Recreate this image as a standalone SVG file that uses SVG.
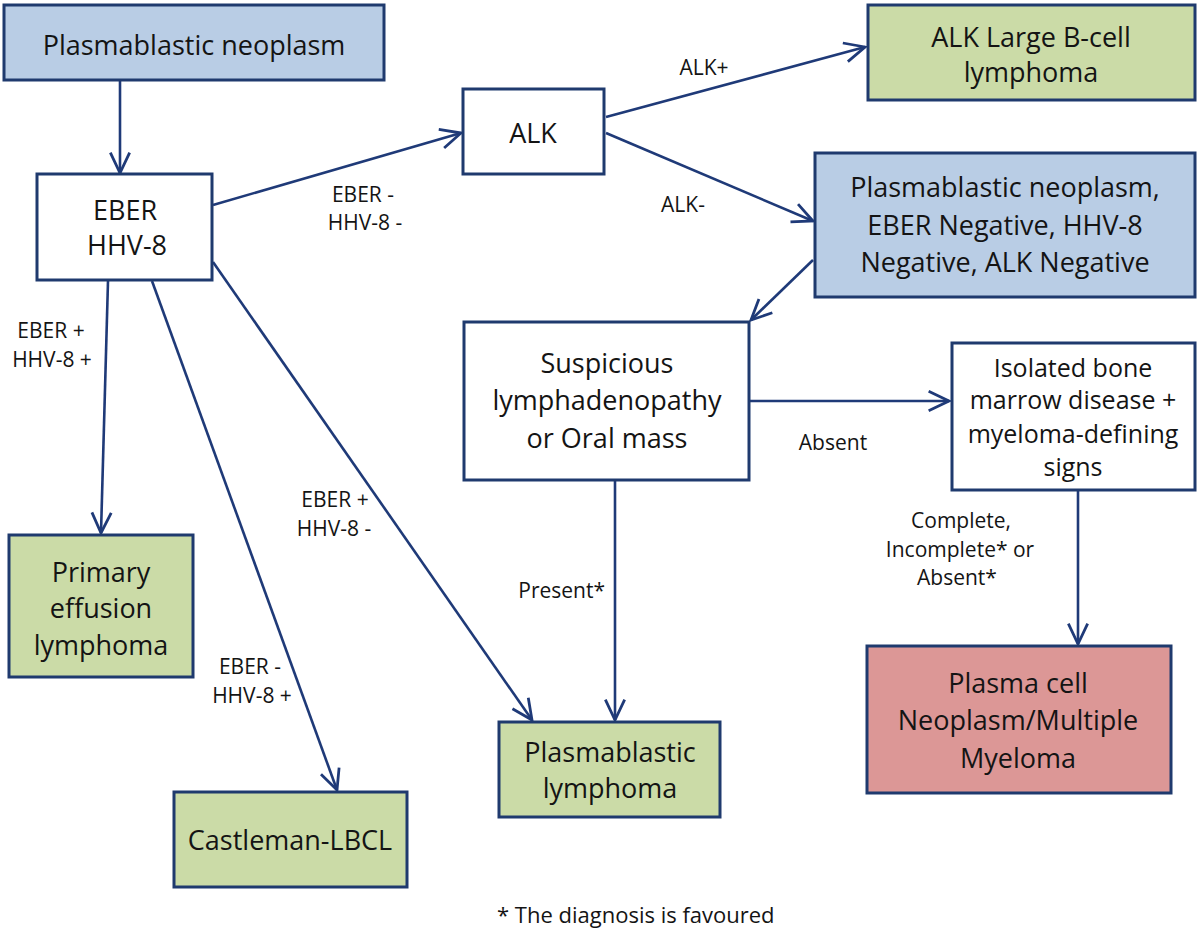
<svg xmlns="http://www.w3.org/2000/svg" width="1200" height="931" viewBox="0 0 1200 931">
<style>
.box{stroke:#1f3a6e;stroke-width:3;}
.blue{fill:#b9cde5;}
.green{fill:#cbdba7;}
.red{fill:#dc9796;}
.white{fill:#ffffff;}
text{font-family:"Open Sans","Liberation Sans",sans-serif;fill:#141414;text-anchor:middle;}
.t{font-size:27px;}
.s{font-size:25px;}
.l{font-size:21px;}
.f{font-size:22px;text-anchor:start;}
.conn line{stroke:#1f3a78;stroke-width:2.6;marker-end:url(#arr);}
</style>
<defs>
<marker id="arr" markerUnits="userSpaceOnUse" markerWidth="30" markerHeight="30" viewBox="-24 -12 28 24" refX="0" refY="0" orient="auto">
<path d="M-19,-9 L0,0 L-19,9" fill="none" stroke="#1f3a78" stroke-width="2.6"/>
</marker>
</defs>
<rect width="1200" height="931" fill="#ffffff"/>
<g id="connectors" class="conn">
<line x1="120" y1="80" x2="120" y2="173"/>
<line x1="213" y1="205" x2="461" y2="133"/>
<line x1="606" y1="117" x2="865" y2="47"/>
<line x1="606" y1="133" x2="813" y2="221"/>
<line x1="813" y1="260" x2="751" y2="320"/>
<line x1="749" y1="401" x2="949" y2="401"/>
<line x1="615" y1="481" x2="615" y2="720"/>
<line x1="1078" y1="490" x2="1078" y2="644"/>
<line x1="108" y1="281" x2="101" y2="533"/>
<line x1="152" y1="281" x2="337" y2="790"/>
<line x1="213" y1="262" x2="532" y2="720"/>
</g>
<g id="labels">
<text class="l" x="363" y="202">EBER -</text>
<text class="l" x="365" y="230">HHV-8 -</text>
<text class="l" x="704" y="75">ALK+</text>
<text class="l" x="683" y="212">ALK-</text>
<text class="l" x="51" y="338">EBER +</text>
<text class="l" x="52" y="367">HHV-8 +</text>
<text class="l" x="335" y="507">EBER +</text>
<text class="l" x="334" y="536">HHV-8 -</text>
<text class="l" x="250" y="674">EBER -</text>
<text class="l" x="252" y="703">HHV-8 +</text>
<text class="l" x="833" y="450">Absent</text>
<text class="l" x="605" y="598" style="text-anchor:end">Present*</text>
<text class="l" x="961" y="528">Complete,</text>
<text class="l" x="960" y="557">Incomplete* or</text>
<text class="l" x="957" y="585">Absent*</text>
</g>
<g id="n-plasmablastic-neoplasm">
<rect class="box blue" x="4" y="5" width="380" height="75"/>
<text class="t" x="194" y="55">Plasmablastic neoplasm</text>
</g>
<g id="n-eber">
<rect class="box white" x="37" y="174" width="175" height="106"/>
<text class="t" x="125" y="220">EBER</text>
<text class="t" x="127" y="255">HHV-8</text>
</g>
<g id="n-alk">
<rect class="box white" x="463" y="89" width="141" height="85"/>
<text class="t" x="533" y="143">ALK</text>
</g>
<g id="n-alk-lbcl">
<rect class="box green" x="868" y="5" width="327" height="95"/>
<text class="t" x="1031" y="47">ALK Large B-cell</text>
<text class="t" x="1031" y="82">lymphoma</text>
</g>
<g id="n-pb-neg">
<rect class="box blue" x="815" y="153" width="380" height="144"/>
<text class="t" x="1005" y="197">Plasmablastic neoplasm,</text>
<text class="t" x="1005" y="235">EBER Negative, HHV-8</text>
<text class="t" x="1005" y="272">Negative, ALK Negative</text>
</g>
<g id="n-suspicious">
<rect class="box white" x="464" y="322" width="285" height="158"/>
<text class="t" x="607" y="373">Suspicious</text>
<text class="t" x="607" y="410">lymphadenopathy</text>
<text class="t" x="607" y="448">or Oral mass</text>
</g>
<g id="n-isolated">
<rect class="box white" x="952" y="343" width="243" height="147"/>
<text class="s" x="1073" y="377">Isolated bone</text>
<text class="s" x="1073" y="409">marrow disease +</text>
<text class="s" x="1073" y="443">myeloma-defining</text>
<text class="s" x="1073" y="476">signs</text>
</g>
<g id="n-pel">
<rect class="box green" x="9" y="535" width="184" height="142"/>
<text class="t" x="101" y="582">Primary</text>
<text class="t" x="101" y="618">effusion</text>
<text class="t" x="101" y="655">lymphoma</text>
</g>
<g id="n-castleman">
<rect class="box green" x="174" y="792" width="233" height="95"/>
<text class="t" x="290" y="850">Castleman-LBCL</text>
</g>
<g id="n-pbl">
<rect class="box green" x="499" y="722" width="221" height="95"/>
<text class="t" x="610" y="762">Plasmablastic</text>
<text class="t" x="610" y="798">lymphoma</text>
</g>
<g id="n-myeloma">
<rect class="box red" x="867" y="646" width="304" height="147"/>
<text class="t" x="1018" y="693">Plasma cell</text>
<text class="t" x="1018" y="730">Neoplasm/Multiple</text>
<text class="t" x="1018" y="768">Myeloma</text>
</g>
<text class="f" x="497" y="923">* The diagnosis is favoured</text>
</svg>
